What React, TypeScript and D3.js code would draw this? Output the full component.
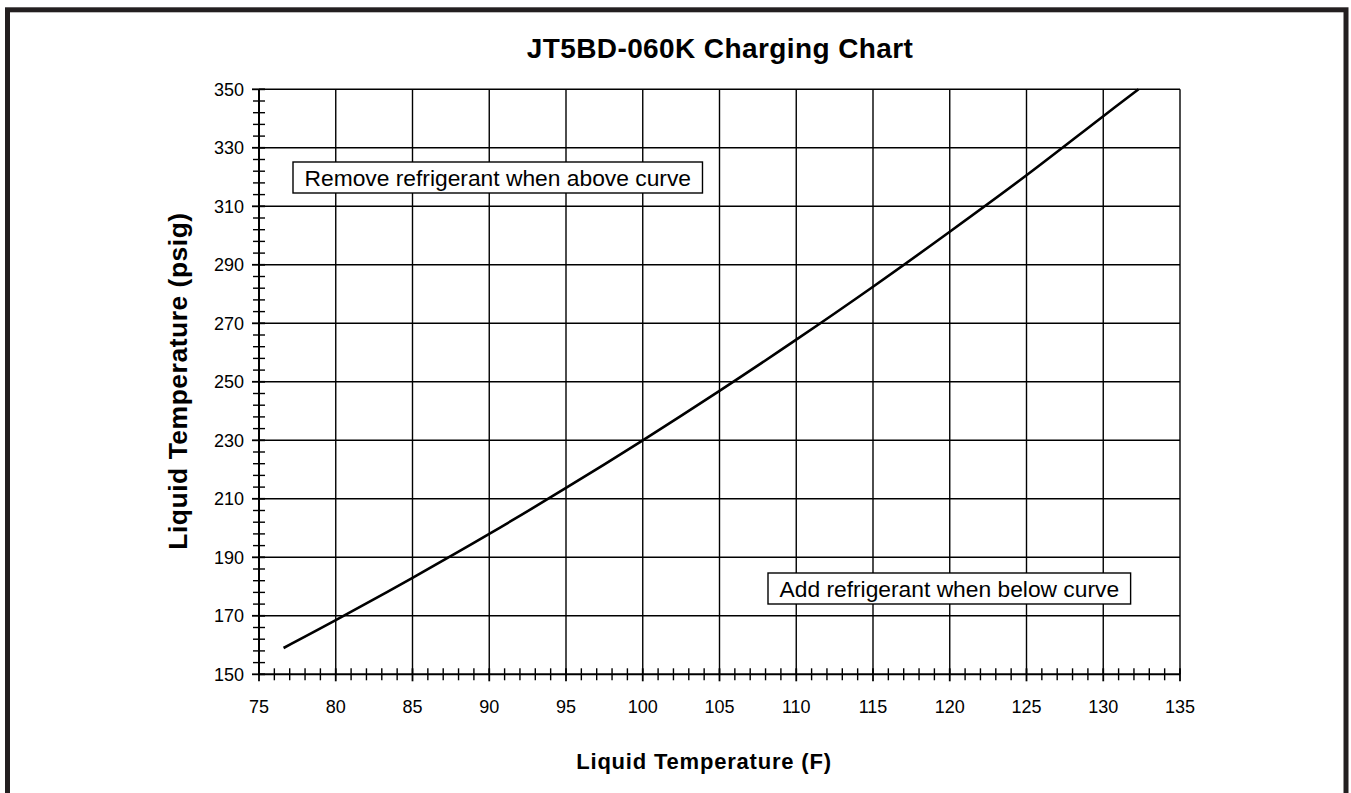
import { useEffect, useRef } from 'react';
import * as d3 from 'd3';

// Curve
const liquidTempF = [76.6, 80, 85, 90, 95, 100, 105, 110, 115, 120, 125, 130, 132.3];
const liquidPsig = [159, 168.5, 183, 198, 213.7, 230, 246.9, 264.4, 282.5, 301.3, 320.6, 340.8, 350];

const xMajorTicks = [75, 80, 85, 90, 95, 100, 105, 110, 115, 120, 125, 130, 135];
const yMajorTicks = [150, 170, 190, 210, 230, 250, 270, 290, 310, 330, 350];

const TITLE = 'JT5BD-060K Charging Chart';
const X_LABEL = 'Liquid Temperature (F)';
const Y_LABEL = 'Liquid Temperature (psig)';
const NOTE_ABOVE = 'Remove refrigerant when above curve';
const NOTE_BELOW = 'Add refrigerant when below curve';

const FONT = '"Liberation Sans", Arial, Helvetica, sans-serif';

export default function App() {
  const svgRef = useRef<SVGSVGElement>(null);

  useEffect(() => {
    if (!svgRef.current) return;
    const width = 1351;
    const height = 793;

    const svg = d3.select(svgRef.current);
    svg.selectAll('*').remove();
    svg.attr('width', width).attr('height', height);

    svg.append('rect').attr('width', width).attr('height', height).attr('fill', '#fff');

    // outer frame (bottom edge is off the page)
    svg
      .append('rect')
      .attr('x', 7.5)
      .attr('y', 9.8)
      .attr('width', 1338.5)
      .attr('height', 820)
      .attr('fill', 'none')
      .attr('stroke', '#231f20')
      .attr('stroke-width', 5);

    const x = d3.scaleLinear().domain([75, 135]).range([259, 1180]);
    const y = d3.scaleLinear().domain([150, 350]).range([674.3, 89.3]);

    const xMinor = d3.range(75, 136, 1).filter((v) => v % 5 !== 0);
    const yMinor = d3.range(150, 351, 4).filter((v) => (v - 150) % 20 !== 0);

    const g = svg.append('g');

    // grid
    g.selectAll('line.vgrid')
      .data(xMajorTicks.slice(1))
      .enter()
      .append('line')
      .attr('x1', (d) => x(d))
      .attr('x2', (d) => x(d))
      .attr('y1', y(150))
      .attr('y2', y(350))
      .attr('stroke', '#000')
      .attr('stroke-width', 1.4);

    g.selectAll('line.hgrid')
      .data(yMajorTicks.slice(1))
      .enter()
      .append('line')
      .attr('x1', x(75))
      .attr('x2', x(135))
      .attr('y1', (d) => y(d))
      .attr('y2', (d) => y(d))
      .attr('stroke', '#000')
      .attr('stroke-width', 1.4);

    // axes lines
    g.append('line')
      .attr('x1', x(75))
      .attr('x2', x(135))
      .attr('y1', y(150))
      .attr('y2', y(150))
      .attr('stroke', '#000')
      .attr('stroke-width', 2);
    g.append('line')
      .attr('x1', x(75))
      .attr('x2', x(75))
      .attr('y1', y(150))
      .attr('y2', y(350))
      .attr('stroke', '#000')
      .attr('stroke-width', 2);

    // x ticks
    g.selectAll('line.xminor')
      .data(xMinor)
      .enter()
      .append('line')
      .attr('x1', (d) => x(d))
      .attr('x2', (d) => x(d))
      .attr('y1', y(150) - 6)
      .attr('y2', y(150) + 6)
      .attr('stroke', '#000')
      .attr('stroke-width', 1.4);
    g.selectAll('line.xmajor')
      .data(xMajorTicks)
      .enter()
      .append('line')
      .attr('x1', (d) => x(d))
      .attr('x2', (d) => x(d))
      .attr('y1', y(150) - 6)
      .attr('y2', y(150) + 7)
      .attr('stroke', '#000')
      .attr('stroke-width', 1.8);

    // y ticks
    g.selectAll('line.yminor')
      .data(yMinor)
      .enter()
      .append('line')
      .attr('x1', x(75) - 6)
      .attr('x2', x(75) + 6)
      .attr('y1', (d) => y(d))
      .attr('y2', (d) => y(d))
      .attr('stroke', '#000')
      .attr('stroke-width', 1.4);
    g.selectAll('line.ymajor')
      .data(yMajorTicks)
      .enter()
      .append('line')
      .attr('x1', x(75) - 7)
      .attr('x2', x(75) + 6)
      .attr('y1', (d) => y(d))
      .attr('y2', (d) => y(d))
      .attr('stroke', '#000')
      .attr('stroke-width', 1.8);

    // tick labels
    g.selectAll('text.xlab')
      .data(xMajorTicks)
      .enter()
      .append('text')
      .attr('x', (d) => x(d))
      .attr('y', 713)
      .attr('text-anchor', 'middle')
      .attr('font-family', FONT)
      .attr('font-size', '18px')
      .attr('fill', '#000')
      .text((d) => d);

    g.selectAll('text.ylab')
      .data(yMajorTicks)
      .enter()
      .append('text')
      .attr('x', 244)
      .attr('y', (d) => y(d))
      .attr('dy', '0.36em')
      .attr('text-anchor', 'end')
      .attr('font-family', FONT)
      .attr('font-size', '18px')
      .attr('fill', '#000')
      .text((d) => d);

    // curve
    const line = d3
      .line<number>()
      .x((d) => x(d))
      .y((_, i) => y(liquidPsig[i]))
      .curve(d3.curveCatmullRom);

    g.append('path')
      .datum(liquidTempF)
      .attr('d', line)
      .attr('fill', 'none')
      .attr('stroke', '#000')
      .attr('stroke-width', 2.6);

    // notes in boxes
    const notes = [
      { text: NOTE_ABOVE, left: 293, top: 162 },
      { text: NOTE_BELOW, left: 768, top: 573 },
    ];
    notes.forEach((n) => {
      const box = g.append('rect');
      const t = g
        .append('text')
        .attr('x', n.left + 11.5)
        .attr('y', n.top + 24)
        .attr('font-family', FONT)
        .attr('font-size', '22.8px')
        .attr('fill', '#000')
        .text(n.text);
      const w = (t.node() as SVGTextElement).getComputedTextLength();
      box
        .attr('x', n.left)
        .attr('y', n.top)
        .attr('width', w + 23)
        .attr('height', 31)
        .attr('fill', '#fff')
        .attr('stroke', '#000')
        .attr('stroke-width', 1.4);
    });

    // titles
    svg
      .append('text')
      .attr('x', 720)
      .attr('y', 58)
      .attr('text-anchor', 'middle')
      .attr('font-family', FONT)
      .attr('font-weight', 'bold')
      .attr('font-size', '28px')
      .attr('letter-spacing', '0.4px')
      .attr('fill', '#000')
      .text(TITLE);

    svg
      .append('text')
      .attr('x', 704)
      .attr('y', 769)
      .attr('text-anchor', 'middle')
      .attr('font-family', FONT)
      .attr('font-weight', 'bold')
      .attr('font-size', '22px')
      .attr('letter-spacing', '0.8px')
      .attr('fill', '#000')
      .text(X_LABEL);

    svg
      .append('text')
      .attr('transform', `translate(187,381) rotate(-90)`)
      .attr('text-anchor', 'middle')
      .attr('font-family', FONT)
      .attr('font-weight', 'bold')
      .attr('font-size', '26.5px')
      .attr('letter-spacing', '0.5px')
      .attr('fill', '#000')
      .text(Y_LABEL);
  }, []);

  return (
    <div style={{ position: 'absolute', left: 0, top: 0 }}>
      <svg ref={svgRef} style={{ display: 'block' }} />
    </div>
  );
}
